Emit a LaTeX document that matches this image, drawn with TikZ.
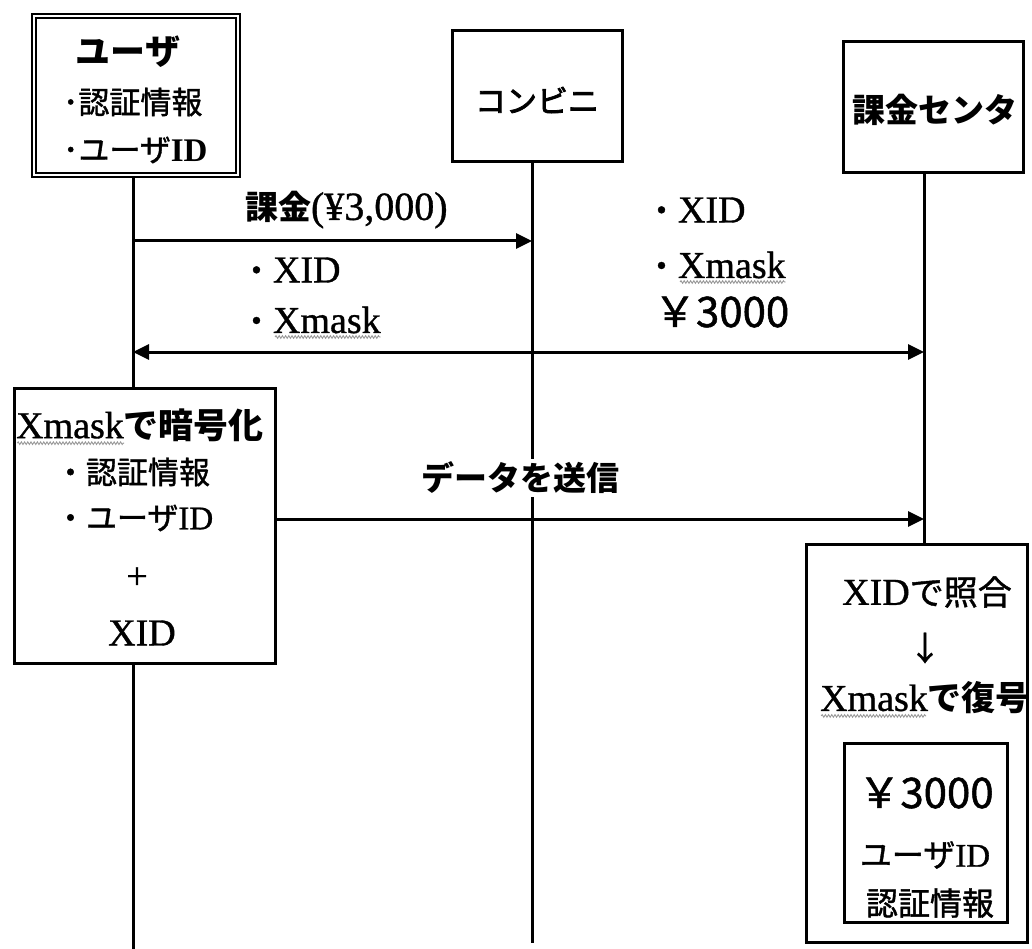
\documentclass[tikz,border=0pt]{standalone}
\usepackage{fontspec}
\setmainfont{Liberation Serif}
\newfontfamily\jp[FakeBold=1.2]{Noto Sans CJK JP}
\newfontfamily\jpm[FakeBold=2.6]{Noto Sans CJK JP}
\newfontfamily\jpb{Noto Sans CJK JP}
\newfontfamily\rmh[FakeBold=0.9]{Liberation Serif}
\usetikzlibrary{arrows.meta,decorations.pathmorphing}
\pgfdeclarelayer{bg}
\pgfdeclarelayer{lines}
\pgfsetlayers{bg,lines,main}
\newcommand\J[2][33]{{\jp\fontsize{#1}{#1}\selectfont #2}}
\newcommand\JM[2][33]{{\jpm\fontsize{#1}{#1}\selectfont #2}}
\newcommand\JB[2][33]{{\jpb\bfseries\fontsize{#1}{#1}\selectfont #2}}
\newcommand\R[2][37]{{\rmh\fontsize{#1}{#1}\selectfont #2}}
\newcommand\RB[2][37]{{\rmfamily\bfseries\fontsize{#1}{#1}\selectfont #2}}
\tikzset{
  box/.style={draw, line width=3pt, fill=white, inner sep=0pt, outer sep=0pt},
  dbox/.style={draw, line width=2pt, double=white, double distance=2pt, fill=white, inner sep=0pt},
  txt/.style={inner sep=0pt, outer sep=0pt},
  life/.style={line width=3pt},
  tip/.tip={Triangle[length=16pt,width=15pt]},
  msg/.style={line width=3pt, -tip},
  bimsg/.style={line width=3pt, tip-tip},
  squig/.style={draw=black!40, line width=0.9pt, decorate,
    decoration={snake, amplitude=1.3pt, segment length=3.2pt}},
}
\begin{document}
\begin{tikzpicture}[x=1pt,y=-1pt]
\begin{pgfonlayer}{bg}
\fill[white] (0,0) rectangle (1032,949);
\end{pgfonlayer}
\useasboundingbox (0,0) rectangle (1032,949);

% actors
\node[dbox, minimum width=204pt, minimum height=159pt] (user) at (136,95.5) {};
\node[txt] (uname) at (128,52) {\JB[35]{ユーザ}};
\node[txt, anchor=west] (uauth) at (63,102) {\J[31]{･認証情報}};
\node[txt, anchor=west] (uid) at (63,150) {\J[31]{･ユーザ}\RB[33]{ID}};

\node[box, minimum width=170pt, minimum height=131pt] (konbini) at (537.5,96) {};
\node[txt] (ktext) at (537,100) {\JM[31]{コンビニ}};

\node[box, minimum width=180pt, minimum height=131pt] (center) at (933.5,107) {};
\node[txt] (ctext) at (935,110) {\JB[33]{課金センタ}};

% lifeline ends
\coordinate (uEnd) at (133,949);
\coordinate (kEnd) at (532,943);
\coordinate (cX) at (924,0);

% encryption box (user side)
\node[box, minimum width=261pt, minimum height=275pt] (enc) at (145,526) {};
\node[txt] (e1) at (140,425) {\R[38]{Xmask}\JB[35]{で暗号化}};
\node[txt, anchor=west] (e2) at (55,472) {\J[31]{・認証情報}};
\node[txt, anchor=west] (e3) at (55,518) {\J[31]{・ユーザ}\R[33]{ID}};
\node[txt] (e4) at (137,578) {\R[38]{+}};
\node[txt] (e5) at (142,633) {\R[38]{XID}};

% decryption box (center side)
\node[box, minimum width=221pt, minimum height=398pt] (dec) at (916.5,743) {};
\node[txt] (d1) at (927,592) {\R[38]{XID}\J[34]{で照合}};
\node[txt] (d2) at (925,648) {\J{↓}};
\node[txt] (d3) at (925,698) {\R[38]{Xmask}\JB[34]{で復号}};
\node[box, minimum width=163pt, minimum height=179pt] (res) at (925.5,832.5) {};
\node[txt] (r1) at (926,793) {\J[42]{￥3000}};
\node[txt] (r2) at (925,855) {\J[32]{ユーザ}\R[33]{ID}};
\node[txt] (r3) at (930,903) {\J[32]{認証情報}};

% lifelines
\begin{pgfonlayer}{lines}
\draw[life] (uEnd |- user.center) -- (uEnd);
\draw[life] (kEnd |- konbini.center) -- (kEnd);
\draw[life] (cX |- center.center) -- (cX |- dec.center);
\end{pgfonlayer}

% messages
\coordinate (a1s) at (133,241);
\coordinate (a1e) at (532,241);
\draw[msg] (a1s) -- (a1e);
\node[txt, anchor=west] (l1) at (245,210) {\JB{課金}\R[40]{(¥3,000)}};
\node[txt, anchor=west] (l2) at (240,270) {\J{・}\R[38]{XID}};
\node[txt, anchor=west] (l3) at (240,320) {\J{・}\R[38]{Xmask}};

\coordinate (b1) at (133,352);
\coordinate (b2) at (924,352);
\draw[bimsg] (b1) -- (b2);
\node[txt, anchor=west] (m1) at (645,210) {\J{・}\R[38]{XID}};
\node[txt, anchor=west] (m2) at (645,265) {\J{・}\R[38]{Xmask}};
\node[txt, anchor=west] (m3) at (654,312) {\J[42]{￥3000}};

\coordinate (a3e) at (924,519);
\draw[msg] (enc.east |- a3e) -- (a3e);
\node[txt, fill=white, inner sep=3pt] (send) at (520,478) {\JB{データを送信}};

% spell-check squiggles under Xmask
\draw[squig] ([xshift=35pt,yshift=-4pt]l3.base west) -- ([yshift=-4pt]l3.base east);
\draw[squig] ([xshift=35pt,yshift=-4pt]m2.base west) -- ([yshift=-4pt]m2.base east);
\draw[squig] ([xshift=1pt,yshift=-5pt]e1.base west) -- ([xshift=108pt,yshift=-5pt]e1.base west);
\draw[squig] ([xshift=1pt,yshift=-5pt]d3.base west) -- ([xshift=106pt,yshift=-5pt]d3.base west);
\end{tikzpicture}
\end{document}
